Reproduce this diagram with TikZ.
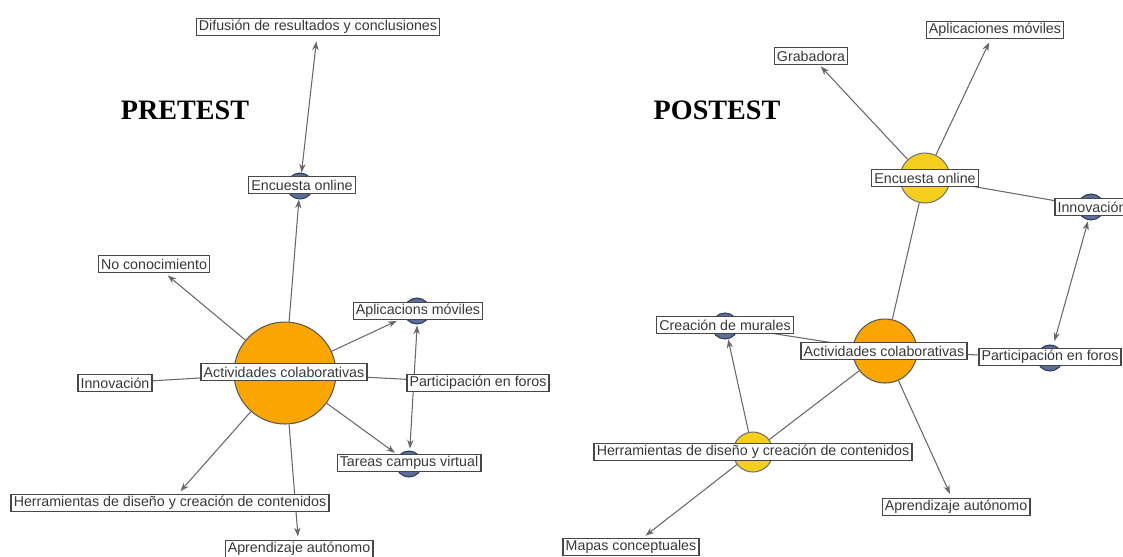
\documentclass[tikz,border=0pt]{standalone}
\usepackage{fontspec}
\setmainfont{Liberation Sans}
\newfontfamily\titlefont{Liberation Serif}
\usetikzlibrary{arrows.meta}
\pgfdeclarelayer{bg}
\pgfdeclarelayer{edges}
\pgfsetlayers{bg,edges,main}
\definecolor{orangec}{HTML}{F9A602}
\definecolor{yellowc}{HTML}{F5CF1E}
\definecolor{bluec}{HTML}{5B6F9A}
\definecolor{bluedark}{HTML}{2F3B57}
\definecolor{linec}{HTML}{686868}
\definecolor{boxc}{HTML}{474747}
\definecolor{txtc}{HTML}{383838}
\tikzset{
  lbl/.style={draw=boxc, fill=white, line width=0.75pt, text=txtc,
    font=\fontsize{8.1}{9}\selectfont, inner xsep=1.5pt, inner ysep=0pt,
    minimum height=0.34cm},
  vbig/.style={circle, draw=black!65, line width=0.6pt, fill=orangec, inner sep=0pt, minimum size=#1},
  vyel/.style={circle, draw=black!55, line width=0.6pt, fill=yellowc, inner sep=0pt, minimum size=#1},
  vblu/.style={circle, draw=bluedark, line width=0.6pt, fill=bluec, inner sep=0pt, minimum size=#1},
  edge/.style={draw=linec, line width=0.6pt},
  arr/.style={edge, -{Stealth[length=5pt,width=3.6pt]}},
  darr/.style={edge, {Stealth[length=5pt,width=3.6pt]}-{Stealth[length=5pt,width=3.6pt]}},
  ttl/.style={font=\titlefont\bfseries\fontsize{16}{19}\selectfont, text=black, inner sep=0pt}
}
\begin{document}
\begin{tikzpicture}[x=0.02cm, y=-0.02cm]
\useasboundingbox (0,0) rectangle (1123,556);

% ---------- circles ----------
\begin{pgfonlayer}{bg}
  % pretest
  \node[vblu=0.52cm] (pEncC) at (300,186) {};
  \node[vbig=2.04cm] (pActC) at (285,373) {};
  \node[vblu=0.52cm] (pAplC) at (417,311) {};
  \node[vblu=0.52cm] (pTarC) at (409,464) {};
  % postest
  \node[vyel=1.0cm]  (qEncC) at (925,178) {};
  \node[vblu=0.52cm] (qInnC) at (1091,207) {};
  \node[vblu=0.52cm] (qCreC) at (725,326) {};
  \node[vbig=1.28cm] (qActC) at (885,351) {};
  \node[vblu=0.52cm] (qParC) at (1050,358) {};
  \node[vyel=0.8cm]  (qHerC) at (753,452) {};
\end{pgfonlayer}

% ---------- labels ----------
\node[ttl] (pTitle) at (185,110) {PRETEST};
\node[ttl] (qTitle) at (717,110) {POSTEST};

\node[lbl] (pDif) at (318,27)  {Difusión de resultados y conclusiones};
\node[lbl] (pEnc) at (302,185) {Encuesta online};
\node[lbl] (pNo)  at (154,264) {No conocimiento};
\node[lbl] (pAct) at (284,372) {Actividades colaborativas};
\node[lbl] (pInn) at (115,383) {Innovación};
\node[lbl] (pApl) at (418,311) {Aplicacions móviles};
\node[lbl] (pPar) at (478,383) {Participación en foros};
\node[lbl] (pTar) at (409,463) {Tareas campus virtual};
\node[lbl] (pHer) at (170,503) {Herramientas de diseño y creación de contenidos};
\node[lbl] (pApr) at (299,549) {Aprendizaje autónomo};

\node[lbl] (qGra) at (811,56)  {Grabadora};
\node[lbl] (qApl) at (995,30)  {Aplicaciones móviles};
\node[lbl] (qEnc) at (925,178) {Encuesta online};
\node[lbl] (qInn) at (1092,207) {Innovación};
\node[lbl] (qCre) at (725,325) {Creación de murales};
\node[lbl] (qAct) at (884,351) {Actividades colaborativas};
\node[lbl] (qPar) at (1050,357) {Participación en foros};
\node[lbl] (qHer) at (753,452) {Herramientas de diseño y creación de contenidos};
\node[lbl] (qApr) at (956,507) {Aprendizaje autónomo};
\node[lbl] (qMap) at (631,547) {Mapas conceptuales};

% ---------- connectors ----------
\begin{pgfonlayer}{edges}
  % pretest
  \draw[darr, shorten <=3pt] (pDif) -- (pEncC);
  \draw[arr] (pActC) -- (pEncC);
  \draw[arr, shorten >=2pt] (pActC) -- (pNo);
  \draw[edge] (pActC) -- (pInn);
  \draw[arr, shorten >=1pt] (pActC) -- (pApl);
  \draw[edge] (pActC) -- (pPar);
  \draw[arr, shorten >=1pt] (pActC) -- (pTar);
  \draw[darr, shorten <=3pt, shorten >=3pt] (pApl) -- (pTar);
  \draw[arr, shorten >=2pt] (pActC) -- (pHer);
  \draw[arr, shorten >=2pt] (pActC) -- (pApr);
  % postest
  \draw[arr, shorten >=1pt] (qEncC) -- (qGra);
  \draw[arr, shorten >=2pt] (qEncC) -- (qApl);
  \draw[edge] (qEncC) -- (qInnC);
  \draw[edge] (qEncC) -- (qActC);
  \draw[darr, shorten <=3pt, shorten >=4pt] (qInn) -- (qPar);
  \draw[edge] (qActC) -- (qCreC);
  \draw[edge] (qActC) -- (qParC);
  \draw[edge] (qActC) -- (qHerC);
  \draw[arr, shorten >=2.5pt] (qActC) -- (qApr);
  \draw[arr, shorten >=3pt] (qHerC) -- (qCre);
  \draw[arr, shorten >=2pt] (qHerC) -- (qMap);
\end{pgfonlayer}
\end{tikzpicture}
\end{document}
